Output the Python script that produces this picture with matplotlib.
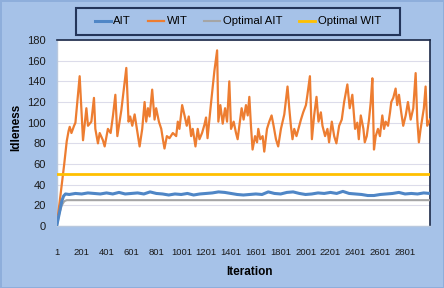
import matplotlib
matplotlib.use("Agg")
import matplotlib.pyplot as plt
from matplotlib.patches import Rectangle

plt.rcParams['font.family'] = ['Liberation Sans', 'DejaVu Sans']

# WIT (key points)
wit_iter = [1, 20, 40, 60, 80, 95, 104, 118, 139, 150, 165, 184, 211, 238, 251, 278, 299, 310,
            331, 345, 371, 385, 411, 433, 452, 471, 487, 519, 559, 577, 590, 607, 626, 644,
            666, 687, 706, 719, 733, 746, 767, 786, 799, 821, 840, 853, 866, 885, 906, 933,
            960, 973, 986, 1008, 1027, 1045, 1061, 1080, 1093, 1115, 1133, 1147, 1168, 1187,
            1200, 1212, 1241, 1267, 1289, 1299, 1315, 1334, 1353, 1369, 1387, 1401, 1422, 1441,
            1454, 1468, 1486, 1502, 1521, 1535, 1548, 1561, 1574, 1594, 1610, 1620, 1636, 1655,
            1668, 1690, 1708, 1727, 1743, 1762, 1780, 1802, 1829, 1855, 1869, 1882, 1895, 1909,
            1927, 1943, 1963, 1981, 2003, 2015, 2035, 2051, 2069, 2088, 2104, 2123, 2136, 2157,
            2176, 2189, 2211, 2230, 2248, 2270, 2291, 2310, 2336, 2355, 2376, 2398, 2416, 2428,
            2444, 2465, 2476, 2492, 2510, 2524, 2537, 2550, 2564, 2582, 2598, 2617, 2631, 2644,
            2663, 2679, 2689, 2705, 2724, 2737, 2751, 2769, 2785, 2805, 2823, 2845, 2866, 2885,
            2898, 2911, 2925, 2951, 2965, 2978, 3000]
wit_val = [2, 20, 40, 60, 82, 92, 96, 90, 97, 100, 120, 145, 83, 114, 97, 101, 124, 94,
           80, 90, 83, 77, 94, 90, 107, 127, 87, 112, 153, 101, 106, 97, 108, 94,
           77, 94, 120, 101, 114, 106, 132, 103, 114, 101, 94, 84, 75, 87, 85, 90,
           87, 101, 94, 117, 107, 97, 106, 87, 94, 77, 94, 84, 90, 98,
           105, 85, 120, 150, 170, 101, 117, 99, 114, 101, 140, 94, 101, 90,
           84, 97, 114, 103, 117, 107, 125, 97, 74, 87, 81, 94, 84, 87,
           72, 94, 101, 107, 97, 84, 77, 94, 108, 135, 114, 97, 84, 94,
           87, 94, 103, 110, 117, 127, 145, 84, 107, 125, 101, 110, 97, 87,
           94, 81, 101, 87, 80, 97, 103, 120, 137, 114, 127, 94, 100, 84,
           107, 94, 81, 87, 103, 120, 143, 74, 87, 94, 87, 107, 94, 101,
           97, 110, 120, 124, 133, 117, 127, 110, 97, 107, 120, 103, 114, 148,
           103, 81, 94, 114, 135, 97, 103]

# AIT
ait_iter = [1, 20, 40, 55, 70, 100, 150, 200, 250, 300, 350, 400, 450, 500, 550, 600, 650,
            700, 750, 800, 850, 900, 950, 1000, 1050, 1100, 1150, 1200, 1250, 1300, 1350,
            1400, 1450, 1500, 1550, 1600, 1650, 1700, 1750, 1800, 1850, 1900, 1950, 2000,
            2050, 2100, 2150, 2200, 2250, 2300, 2350, 2400, 2450, 2500, 2550, 2600, 2650,
            2700, 2750, 2800, 2850, 2900, 2950, 3000]
ait_val = [1, 12, 24, 29, 31, 30.5, 31.5, 31, 32, 31.5, 31, 32, 31, 32.5, 31, 31.5, 32,
           31, 33, 31.5, 31, 30, 31, 30.5, 31.5, 30, 31, 31.5, 32, 33, 32.5,
           31.5, 30.5, 30, 30.5, 31, 30.5, 33, 31.5, 31, 32.5, 33, 31.5, 30.5,
           31, 32, 31.5, 32.5, 31.5, 33.5, 31.5, 31, 30.5, 29.5, 29.5, 30.5, 31,
           31.5, 32.5, 31, 31.5, 31, 32, 31.5]

# Optimal AIT
opt_ait_iter = [1, 20, 40, 60, 80, 3000]
opt_ait_val = [0, 12, 20, 24, 25, 25]

# Optimal WIT
opt_wit_iter = [1, 3000]
opt_wit_val = [50, 50]

xticks = list(range(1, 3000, 200))

bg = '#a6c2e8'
fig = plt.figure(figsize=(4.44, 2.88), dpi=100, facecolor=bg)
fig.patch.set_edgecolor('#8eaedb')
fig.patch.set_linewidth(2)
ax = fig.add_axes([0.128, 0.2153, 0.8405, 0.6457])
ax.set_facecolor('white')

ax.plot(ait_iter, ait_val, color='#4f86c6', lw=2.2, label='AIT', zorder=4)
ax.plot(wit_iter, wit_val, color='#ed7d31', lw=1.6, label='WIT', zorder=3)
ax.plot(opt_ait_iter, opt_ait_val, color='#a5a5a5', lw=1.5, label='Optimal AIT', zorder=3)
ax.plot(opt_wit_iter, opt_wit_val, color='#ffc000', lw=2, label='Optimal WIT', zorder=3)

ax.set_xlim(0.5, 3000.5)
ax.set_ylim(0, 180)
ax.set_yticks(range(0, 181, 20))
ax.set_xticks(xticks)
ax.set_xticklabels([str(t) for t in xticks])
ax.grid(axis='y', color='#dcdcea', lw=0.8)
ax.set_axisbelow(True)
ax.tick_params(length=0, labelsize=8, colors='#1a1a1a')
ax.tick_params(axis='x', pad=16, labelsize=6.8)
ax.tick_params(axis='y', pad=8)

for s in ['top', 'right']:
    ax.spines[s].set_color('#1c2a48')
    ax.spines[s].set_linewidth(1.2)
for s in ['left', 'bottom']:
    ax.spines[s].set_color('#b8c8de')
    ax.spines[s].set_linewidth(1)

ax.set_ylabel('Idleness', fontsize=8.5, fontweight='bold')
ax.set_xlabel('Iteration', fontsize=8.5, fontweight='bold')
ax.yaxis.set_label_coords(-0.092, 0.528)
ax.xaxis.set_label_coords(0.517, -0.215)

fig.patches.append(Rectangle((76 / 444, 1 - 35 / 288), 324 / 444, 27 / 288,
                             transform=fig.transFigure, facecolor=bg,
                             edgecolor='#23355a', lw=1.5, zorder=1))
fig.legend(loc='center', bbox_to_anchor=(238 / 444, 1 - 21.5 / 288), ncol=4,
           frameon=False, fontsize=8.2, handlelength=1.4, handletextpad=0.2,
           columnspacing=1.5)

fig.savefig('out.png', dpi=100, facecolor=bg, edgecolor=fig.patch.get_edgecolor())
